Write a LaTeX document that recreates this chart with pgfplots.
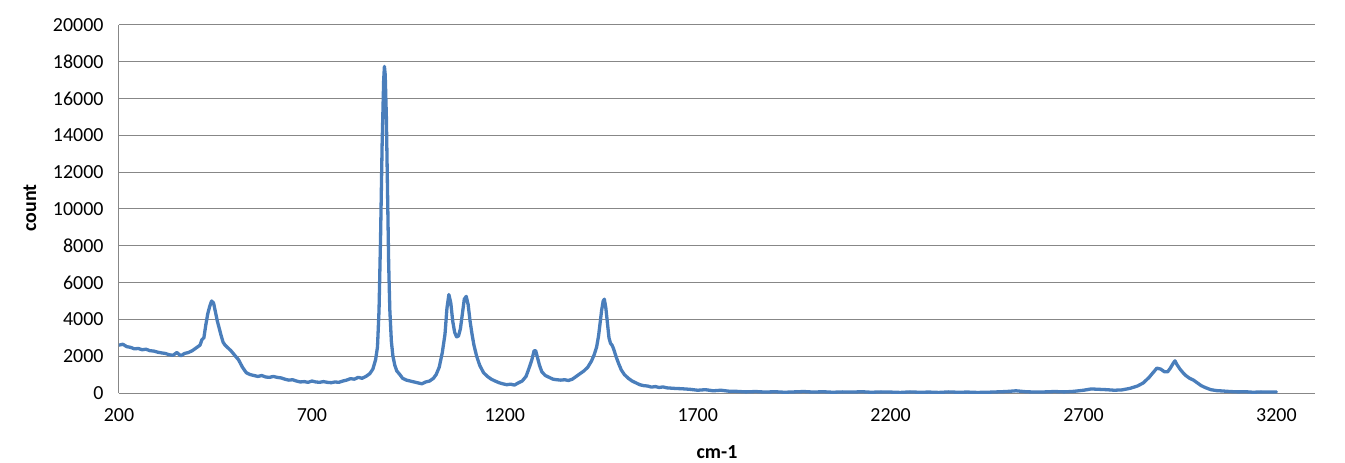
\documentclass[border=0pt]{standalone}
\usepackage{pgfplots}
\pgfplotsset{compat=1.18}
\usepackage{fontspec}
\setmainfont{Carlito}
\definecolor{exblue}{HTML}{4A7EBB}
\definecolor{gridgray}{HTML}{878787}
\begin{document}
\begin{tikzpicture}
\path[use as bounding box] (-119bp,-70bp) rectangle (1226bp,393bp);
\begin{axis}[
 scale only axis, width=1196bp, height=368bp,
 at={(0,0)}, anchor=south west,
 xmin=200, xmax=3300, ymin=0, ymax=20000,
 xtick={200,700,...,3200}, ytick={0,2000,...,20000},
 axis x line*=bottom, axis y line*=left,
 axis line style={gridgray, line width=1bp, -},
 ymajorgrids, grid style={gridgray, line width=1bp},
 major tick length=0pt,
 tick label style={font=\fontsize{20}{24}\selectfont},
 yticklabel style={xshift=-12bp},
 xticklabel style={yshift=-12bp},
 /pgf/number format/assume math mode=true,
 /pgf/number format/1000 sep={},
 scaled y ticks=false, scaled x ticks=false,
 xlabel={cm-1}, ylabel={count},
 every axis y label/.style={at={(axis description cs:-0.0744,0.503)}, rotate=90, anchor=center, font=\fontsize{20}{24}\selectfont\bfseries},
 every axis x label/.style={at={(axis description cs:0.5,-0.160)}, anchor=center, font=\fontsize{20}{24}\selectfont\bfseries},
]
\addplot[exblue, line width=3.3bp, line join=round, line cap=round] coordinates {
(200,2600)(210,2650)(220,2520)(230,2480)(240,2400)(250,2420)(260,2350)(270,2380)
(280,2300)(290,2280)(300,2220)(310,2180)(320,2150)(330,2080)(340,2050)(350,2200)
(360,2020)(370,2150)(380,2200)(390,2300)(400,2450)(410,2600)(415,2900)(420,3000)
(425,3700)(430,4300)(435,4700)(440,5000)(445,4900)(450,4400)(455,3900)(460,3500)
(465,3100)(470,2750)(475,2600)(480,2500)(490,2300)(500,2050)(510,1800)(520,1400)
(530,1100)(540,1000)(550,950)(560,900)(570,950)(580,870)(590,850)(600,900)
(610,850)(620,820)(630,750)(640,700)(650,720)(660,650)(670,600)(680,620)(690,580)
(700,650)(710,600)(720,580)(730,620)(740,580)(750,560)(760,600)(770,580)(780,650)
(790,700)(800,780)(810,750)(820,850)(830,800)(840,900)(850,1050)(858,1300)(865,1800)
(870,2500)(874,4500)(878,8500)(882,13500)(886,17000)(888,17750)(890,17300)(893,15000)
(896,11000)(899,7000)(902,4500)(906,2800)(910,2000)(915,1500)(920,1200)(928,1000)
(935,800)(945,700)(955,650)(965,600)(975,550)(985,500)(995,600)(1005,650)(1015,800)
(1022,1000)(1030,1400)(1038,2200)(1045,3200)(1050,4600)(1055,5350)(1060,4900)
(1065,3900)(1070,3300)(1075,3050)(1080,3100)(1085,3500)(1090,4300)(1095,5100)
(1100,5250)(1105,4800)(1110,3900)(1115,3200)(1120,2600)(1127,2000)(1135,1500)
(1145,1100)(1155,900)(1165,750)(1175,650)(1185,560)(1195,500)(1205,450)(1215,480)
(1225,430)(1235,550)(1245,650)(1255,900)(1262,1300)(1270,1800)(1276,2300)(1280,2300)
(1285,1900)(1290,1500)(1296,1150)(1305,950)(1315,850)(1325,750)(1335,720)(1345,700)
(1355,720)(1365,680)(1375,750)(1385,900)(1395,1050)(1405,1200)(1415,1400)(1425,1750)
(1432,2100)(1438,2500)(1443,3100)(1447,3800)(1451,4500)(1455,5000)(1458,5100)
(1462,4600)(1466,3800)(1470,3000)(1474,2700)(1478,2600)(1482,2400)(1488,2000)
(1495,1600)(1502,1250)(1510,1000)(1520,800)(1530,650)(1540,550)(1550,450)(1560,400)
(1570,380)(1580,320)(1590,350)(1600,300)(1610,330)(1620,280)(1640,250)(1660,230)
(1680,200)(1700,150)(1720,180)(1740,120)(1760,150)(1780,100)(1800,90)(1825,60)
(1850,80)(1875,50)(1900,70)(1925,40)(1950,60)(1975,80)(2000,50)(2025,70)(2050,40)
(2075,60)(2100,50)(2125,70)(2150,40)(2175,60)(2200,50)(2225,30)(2250,60)(2275,40)
(2300,50)(2325,30)(2350,60)(2375,40)(2400,50)(2425,30)(2450,40)(2475,60)(2500,80)
(2525,120)(2550,70)(2575,50)(2600,60)(2625,80)(2650,60)(2675,90)(2700,150)(2720,220)
(2740,200)(2760,180)(2780,150)(2800,170)(2820,250)(2840,380)(2855,550)(2870,850)
(2880,1100)(2890,1350)(2900,1300)(2910,1150)(2918,1150)(2925,1350)(2932,1600)
(2937,1750)(2942,1550)(2950,1300)(2958,1100)(2965,950)(2975,800)(2985,700)(2995,550)
(3005,400)(3015,300)(3030,180)(3045,130)(3060,110)(3080,80)(3100,60)(3120,70)
(3140,40)(3160,60)(3180,50)(3200,60)
};
\end{axis}
\end{tikzpicture}
\end{document}
